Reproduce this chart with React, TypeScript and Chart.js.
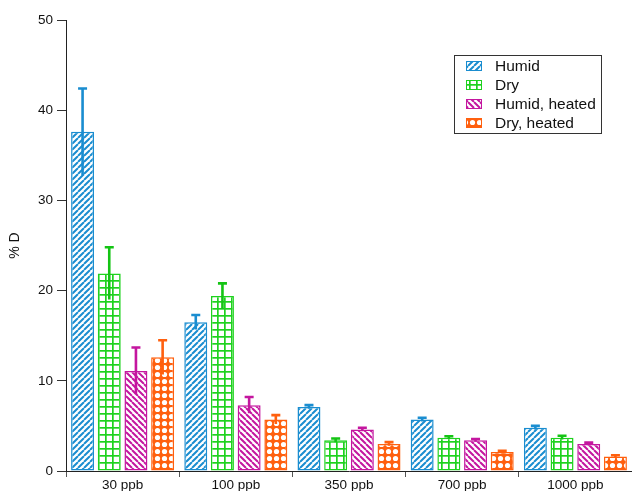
import React, { useEffect, useRef } from "react";
import { Chart, registerables } from "chart.js";

Chart.register(...registerables);

const categories = ["30 ppb", "100 ppb", "350 ppb", "700 ppb", "1000 ppb"];
const seriesNames = ["Humid", "Dry", "Humid, heated", "Dry, heated"];

const humid = [37.6, 16.5, 7.1, 5.7, 4.8];
const humidErr = [4.8, 0.8, 0.2, 0.2, 0.2];
const dry = [21.9, 19.4, 3.4, 3.7, 3.7];
const dryErr = [2.9, 1.4, 0.2, 0.15, 0.2];
const humidHeated = [11.1, 7.3, 4.6, 3.4, 3.0];
const humidHeatedErr = [2.6, 0.9, 0.2, 0.15, 0.15];
const dryHeated = [12.6, 5.7, 3.0, 2.1, 1.6];
const dryHeatedErr = [1.9, 0.5, 0.2, 0.15, 0.15];

const yTicks = [0, 10, 20, 30, 40, 50];
const yTitle = "% D";

const colors = ["#1a8dd0", "#1ed21e", "#c4169f", "#ff600f"];
const errColors = ["#1a8dd0", "#14c414", "#c4169f", "#ff600f"];
const kinds = ["fwd", "grid", "back", "dots"];

const FONT = "'Liberation Sans', Arial, sans-serif";

function makePattern(kind: string, color: string): CanvasPattern | string {
  const c = document.createElement("canvas");
  const s = kind === "grid" || kind === "dots" ? 7 : 6;
  c.width = s;
  c.height = s;
  const g = c.getContext("2d");
  if (!g) return color;
  if (kind === "dots") {
    g.fillStyle = color;
    g.fillRect(0, 0, s, s);
    g.fillStyle = "#ffffff";
    g.beginPath();
    g.arc(s / 2, s / 2, 2.6, 0, Math.PI * 2);
    g.fill();
  } else if (kind === "grid") {
    g.fillStyle = "#ffffff";
    g.fillRect(0, 0, s, s);
    g.fillStyle = color;
    g.fillRect(0, 0, s, 1.7);
    g.fillRect(0, 0, 1.7, s);
  } else {
    g.fillStyle = "#ffffff";
    g.fillRect(0, 0, s, s);
    g.strokeStyle = color;
    g.lineWidth = 2;
    g.beginPath();
    for (const k of [-s, 0, s]) {
      if (kind === "fwd") {
        g.moveTo(k, s);
        g.lineTo(k + s, 0);
      } else {
        g.moveTo(k, 0);
        g.lineTo(k + s, s);
      }
    }
    g.stroke();
  }
  const p = g.createPattern(c, "repeat");
  return p || color;
}

const errorBarsPlugin = {
  id: "errorBars",
  afterDatasetsDraw(chart: any) {
    const ctx = chart.ctx;
    const y = chart.scales.y;
    chart.data.datasets.forEach((ds: any, i: number) => {
      const meta = chart.getDatasetMeta(i);
      meta.data.forEach((el: any, j: number) => {
        const v = ds.data[j];
        const e = ds.errors[j];
        const top = y.getPixelForValue(v + e);
        const bot = y.getPixelForValue(v - e);
        ctx.save();
        ctx.strokeStyle = ds.errColor;
        ctx.lineWidth = 2.6;
        ctx.beginPath();
        ctx.moveTo(el.x, bot);
        ctx.lineTo(el.x, top);
        ctx.moveTo(el.x - 4.5, top);
        ctx.lineTo(el.x + 4.5, top);
        ctx.stroke();
        ctx.restore();
      });
    });
  },
};

const legendBoxPlugin = {
  id: "legendBox",
  afterDraw(chart: any) {
    const ctx = chart.ctx;
    ctx.save();
    ctx.strokeStyle = "#333333";
    ctx.lineWidth = 1;
    ctx.strokeRect(454.5, 55.5, 147, 78);
    chart.data.datasets.forEach((ds: any, i: number) => {
      const cy = 66 + i * 19;
      ctx.fillStyle = ds.backgroundColor;
      ctx.fillRect(466, cy - 5, 16, 10);
      ctx.strokeStyle = ds.borderColor;
      ctx.lineWidth = 1;
      ctx.strokeRect(466.5, cy - 4.5, 15, 9);
      ctx.fillStyle = "#111111";
      ctx.font = `15.5px ${FONT}`;
      ctx.textBaseline = "middle";
      ctx.textAlign = "left";
      ctx.fillText(ds.label, 495, cy + 1);
    });
    ctx.restore();
  },
};

export default function App() {
  const ref = useRef<HTMLCanvasElement | null>(null);

  useEffect(() => {
    if (!ref.current) return;
    const values = [humid, dry, humidHeated, dryHeated];
    const errs = [humidErr, dryErr, humidHeatedErr, dryHeatedErr];
    const datasets: any[] = seriesNames.map((name, i) => ({
      label: name,
      data: values[i],
      errors: errs[i],
      errColor: errColors[i],
      backgroundColor: makePattern(kinds[i], colors[i]),
      borderColor: colors[i],
      borderWidth: 1.5,
      borderSkipped: false,
      categoryPercentage: 0.943,
      barPercentage: 0.86,
    }));

    const chart = new Chart(ref.current, {
      type: "bar",
      data: { labels: categories, datasets },
      plugins: [errorBarsPlugin, legendBoxPlugin],
      options: {
        animation: false,
        responsive: false,
        maintainAspectRatio: false,
        layout: { padding: { top: 20, right: 0, left: 0, bottom: 0 } },
        plugins: {
          legend: { display: false },
          tooltip: { enabled: false },
        },
        scales: {
          x: {
            grid: {
              offset: true,
              drawOnChartArea: false,
              drawTicks: true,
              tickLength: 6,
              color: "#555555",
            },
            border: { color: "#222222", width: 1 },
            ticks: {
              color: "#111111",
              font: { family: FONT, size: 13.5 },
              padding: 0,
              maxRotation: 0,
            },
            afterFit: (s: any) => {
              s.height = 20;
            },
          },
          y: {
            min: yTicks[0],
            max: yTicks[yTicks.length - 1],
            afterBuildTicks: (s: any) => {
              s.ticks = yTicks.map((v) => ({ value: v }));
            },
            grid: {
              drawOnChartArea: false,
              drawTicks: true,
              tickLength: 9,
              color: "#333333",
            },
            border: { color: "#222222", width: 1 },
            ticks: {
              color: "#111111",
              font: { family: FONT, size: 13.5 },
              padding: 4,
            },
            title: {
              display: true,
              text: yTitle,
              color: "#111111",
              font: { family: FONT, size: 14 },
              padding: { top: 7, bottom: 0 },
            },
            afterFit: (s: any) => {
              s.width = 66;
            },
          },
        },
      } as any,
    });
    return () => chart.destroy();
  }, []);

  return (
    <div style={{ position: "fixed", left: 0, top: 0, width: 632, height: 491, background: "#ffffff" }}>
      <canvas ref={ref} width={632} height={491} style={{ display: "block" }} />
    </div>
  );
}
